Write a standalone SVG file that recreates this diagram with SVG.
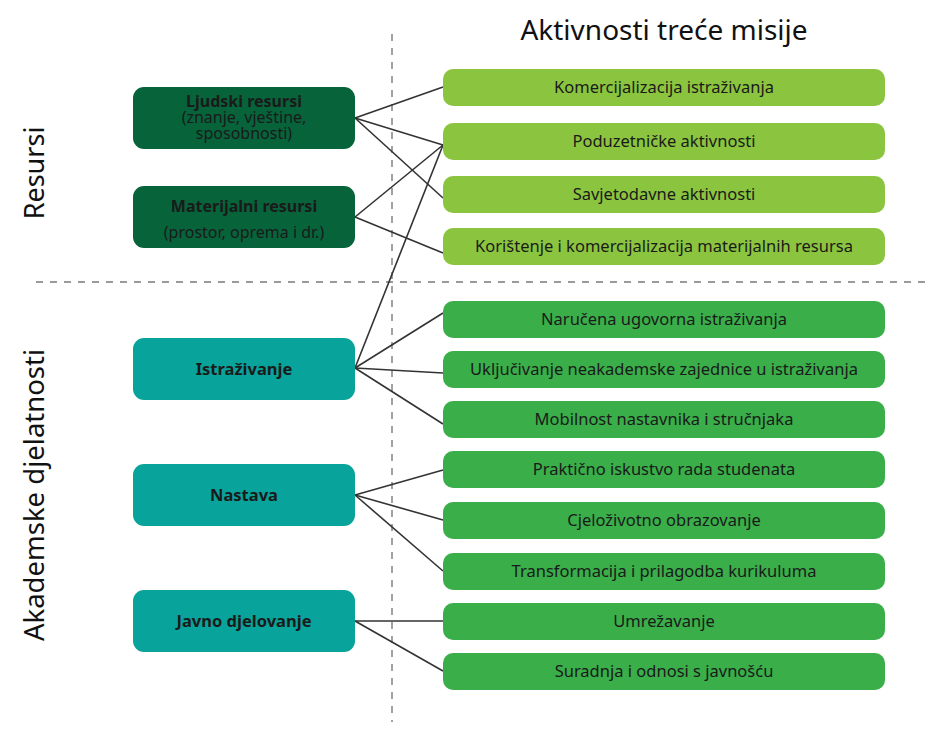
<svg xmlns="http://www.w3.org/2000/svg" width="931" height="734" viewBox="0 0 931 734">
<style>
.t{font-family:"Noto Sans","Open Sans",sans-serif;fill:#1a1a1a;text-anchor:middle}
.b{font-size:16.5px}
.s{font-size:16px}
.bold{font-weight:bold}
.big{font-size:28px;font-family:"Noto Sans","Open Sans",sans-serif;fill:#111;text-anchor:middle}
.dk{fill:#07633a}
.tl{fill:#08a39b}
.lg{fill:#8bc53f}
.g{fill:#39ae49}
.c{stroke:#333;stroke-width:1.6;fill:none}
.d{stroke:#7a7a7a;stroke-width:1.4;stroke-dasharray:7,7;fill:none}
</style>
<rect width="931" height="734" fill="#fff"/>
<g id="guides">
<line class="d" x1="392" y1="34" x2="392" y2="722"/>
<line class="d" x1="36" y1="282" x2="926" y2="282"/>
</g>
<text class="big" x="664" y="40">Aktivnosti treće misije</text>
<text class="big" style="font-size:27px" transform="translate(44,173) rotate(-90)">Resursi</text>
<text class="big" style="font-size:27.5px" transform="translate(44,495) rotate(-90)">Akademske djelatnosti</text>
<g id="connectors">
<line class="c" x1="355" y1="118" x2="443" y2="87"/>
<line class="c" x1="355" y1="118" x2="443" y2="145"/>
<line class="c" x1="355" y1="118" x2="443" y2="198"/>
<line class="c" x1="355" y1="217" x2="443" y2="145"/>
<line class="c" x1="355" y1="217" x2="443" y2="253"/>
<line class="c" x1="355" y1="368" x2="443" y2="145"/>
<line class="c" x1="355" y1="368" x2="443" y2="313"/>
<line class="c" x1="355" y1="368" x2="443" y2="373"/>
<line class="c" x1="355" y1="368" x2="443" y2="424"/>
<line class="c" x1="355" y1="495" x2="443" y2="470"/>
<line class="c" x1="355" y1="495" x2="443" y2="520"/>
<line class="c" x1="355" y1="495" x2="443" y2="571"/>
<line class="c" x1="355" y1="621" x2="443" y2="621"/>
<line class="c" x1="355" y1="621" x2="443" y2="671"/>
</g>
<g id="ljudski"><rect class="dk" x="133" y="87" width="222" height="62" rx="11"/>
<text class="t s bold" x="244" y="107">Ljudski resursi</text>
<text class="t s" x="244" y="123">(znanje, vještine,</text>
<text class="t s" x="244" y="139">sposobnosti)</text></g>
<g id="materijalni"><rect class="dk" x="133" y="186" width="222" height="62" rx="11"/>
<text class="t s bold" x="244" y="212">Materijalni resursi</text>
<text class="t s" x="244" y="238">(prostor, oprema i dr.)</text></g>
<g id="istrazivanje"><rect class="tl" x="133" y="338" width="222" height="62" rx="11"/>
<text class="t b bold" x="244" y="375">Istraživanje</text></g>
<g id="nastava"><rect class="tl" x="133" y="464" width="222" height="62" rx="11"/>
<text class="t b bold" x="244" y="501">Nastava</text></g>
<g id="javno"><rect class="tl" x="133" y="590" width="222" height="62" rx="11"/>
<text class="t b bold" x="244" y="627">Javno djelovanje</text></g>
<g id="a1"><rect class="lg" x="443" y="69" width="442" height="37" rx="10"/><text class="t b" x="664" y="93">Komercijalizacija istraživanja</text></g>
<g id="a2"><rect class="lg" x="443" y="123" width="442" height="37" rx="10"/><text class="t b" x="664" y="147">Poduzetničke aktivnosti</text></g>
<g id="a3"><rect class="lg" x="443" y="176" width="442" height="37" rx="10"/><text class="t b" x="664" y="200">Savjetodavne aktivnosti</text></g>
<g id="a4"><rect class="lg" x="443" y="228" width="442" height="37" rx="10"/><text class="t b" x="664" y="252">Korištenje i komercijalizacija materijalnih resursa</text></g>
<g id="a5"><rect class="g" x="443" y="301" width="442" height="37" rx="10"/><text class="t b" x="664" y="325">Naručena ugovorna istraživanja</text></g>
<g id="a6"><rect class="g" x="443" y="351" width="442" height="37" rx="10"/><text class="t b" x="664" y="375">Uključivanje neakademske zajednice u istraživanja</text></g>
<g id="a7"><rect class="g" x="443" y="401" width="442" height="37" rx="10"/><text class="t b" x="664" y="425">Mobilnost nastavnika i stručnjaka</text></g>
<g id="a8"><rect class="g" x="443" y="451" width="442" height="37" rx="10"/><text class="t b" x="664" y="475">Praktično iskustvo rada studenata</text></g>
<g id="a9"><rect class="g" x="443" y="502" width="442" height="37" rx="10"/><text class="t b" x="664" y="526">Cjeloživotno obrazovanje</text></g>
<g id="a10"><rect class="g" x="443" y="553" width="442" height="37" rx="10"/><text class="t b" x="664" y="577">Transformacija i prilagodba kurikuluma</text></g>
<g id="a11"><rect class="g" x="443" y="603" width="442" height="37" rx="10"/><text class="t b" x="664" y="627">Umrežavanje</text></g>
<g id="a12"><rect class="g" x="443" y="653" width="442" height="37" rx="10"/><text class="t b" x="664" y="677">Suradnja i odnosi s javnošću</text></g>
</svg>
